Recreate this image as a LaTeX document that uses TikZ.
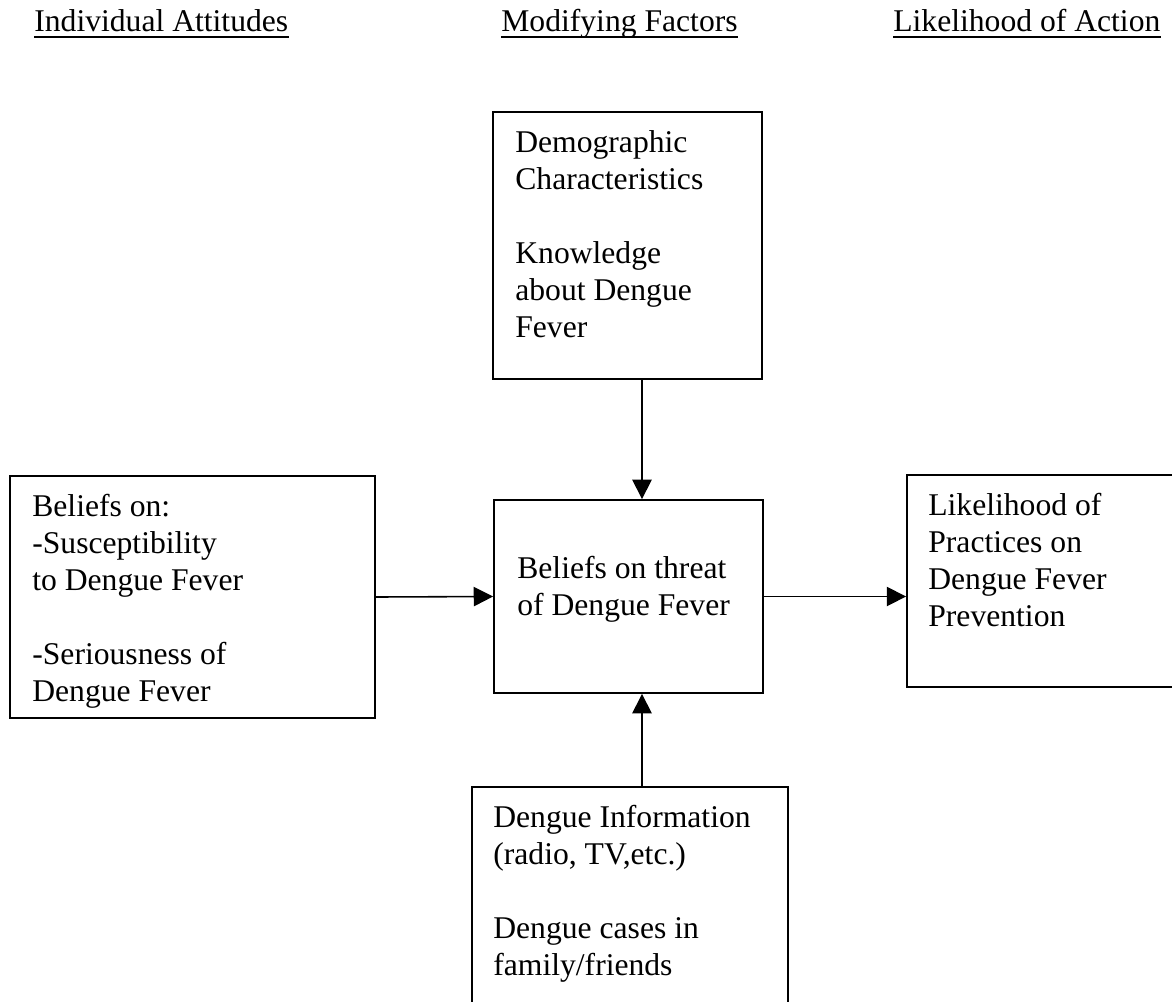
\documentclass[tikz,border=0pt]{standalone}
\usepackage{fontspec}
\setmainfont{Liberation Serif}
\usetikzlibrary{arrows.meta}

\tikzset{
  box/.style={draw, rectangle, line width=1.1pt, inner sep=0pt},
  txt/.style={anchor=base west, align=left, inner sep=0pt, font=\fontsize{18pt}{21pt}\selectfont},
  head/.style={anchor=base west, inner sep=0pt, font=\fontsize{18pt}{21pt}\selectfont},
  uline/.style={line width=1pt},
  arr/.style={line width=0.9pt, -{Triangle[length=11pt, width=11pt]}}
}

\begin{document}
\begin{tikzpicture}[x=0.02cm, y=-0.02cm]
    \useasboundingbox (0,0) rectangle (1172,1001);

    % column headings
    \node[head] (hatt) at (34,31) {Individual Attitudes};
    \node[head] (hmod) at (501,31) {Modifying Factors};
    \node[head] (hact) at (893,31) {Likelihood of Action};
    \foreach \h in {hatt,hmod,hact}
      \draw[uline] ([yshift=-3.5pt]\h.base west) -- ([yshift=-3.5pt]\h.base east);

    % boxes
    \node[box, minimum width=5.38cm, minimum height=5.34cm] (demo) at (627.5,245.5) {};
    \node[box, minimum width=7.30cm, minimum height=4.84cm] (belief) at (192.5,597) {};
    \node[box, minimum width=5.38cm, minimum height=3.86cm] (threat) at (628.5,596.5) {};
    \node[box, minimum width=5.86cm, minimum height=4.24cm] (action) at (1053.5,581) {};
    \node[box, minimum width=6.32cm, minimum height=4.66cm] (info) at (630,903.5) {};

    % box texts (base = last line)
    \node[txt] (demotxt) at (515,337) {Demographic\\Characteristics\\[21pt]Knowledge\\about Dengue\\Fever};
    \node[txt] (belieftxt) at (32,701) {Beliefs on:\\-Susceptibility\\to Dengue Fever\\[21pt]-Seriousness of\\Dengue Fever};
    \node[txt] (threattxt) at (517,615) {Beliefs on threat\\of Dengue Fever};
    \node[txt] (actiontxt) at (928,626) {Likelihood of\\Practices on\\Dengue Fever\\Prevention};
    \node[txt] (infotxt) at (493,975) {Dengue Information\\(radio, TV,etc.)\\[21pt]Dengue cases in\\family/friends};

    % arrows
    \coordinate (dn) at ([xshift=0.27cm]threat.north);
    \coordinate (up) at ([xshift=0.27cm]threat.south);
    \draw[arr] (demo.south -| dn) -- (dn);
    \draw[arr] (info.north -| up) -- (up);
    \draw[arr] (belief.east) -- (threat.west);
    \draw[arr] (threat.east) -- (threat.east -| action.west);
\end{tikzpicture}
\end{document}
